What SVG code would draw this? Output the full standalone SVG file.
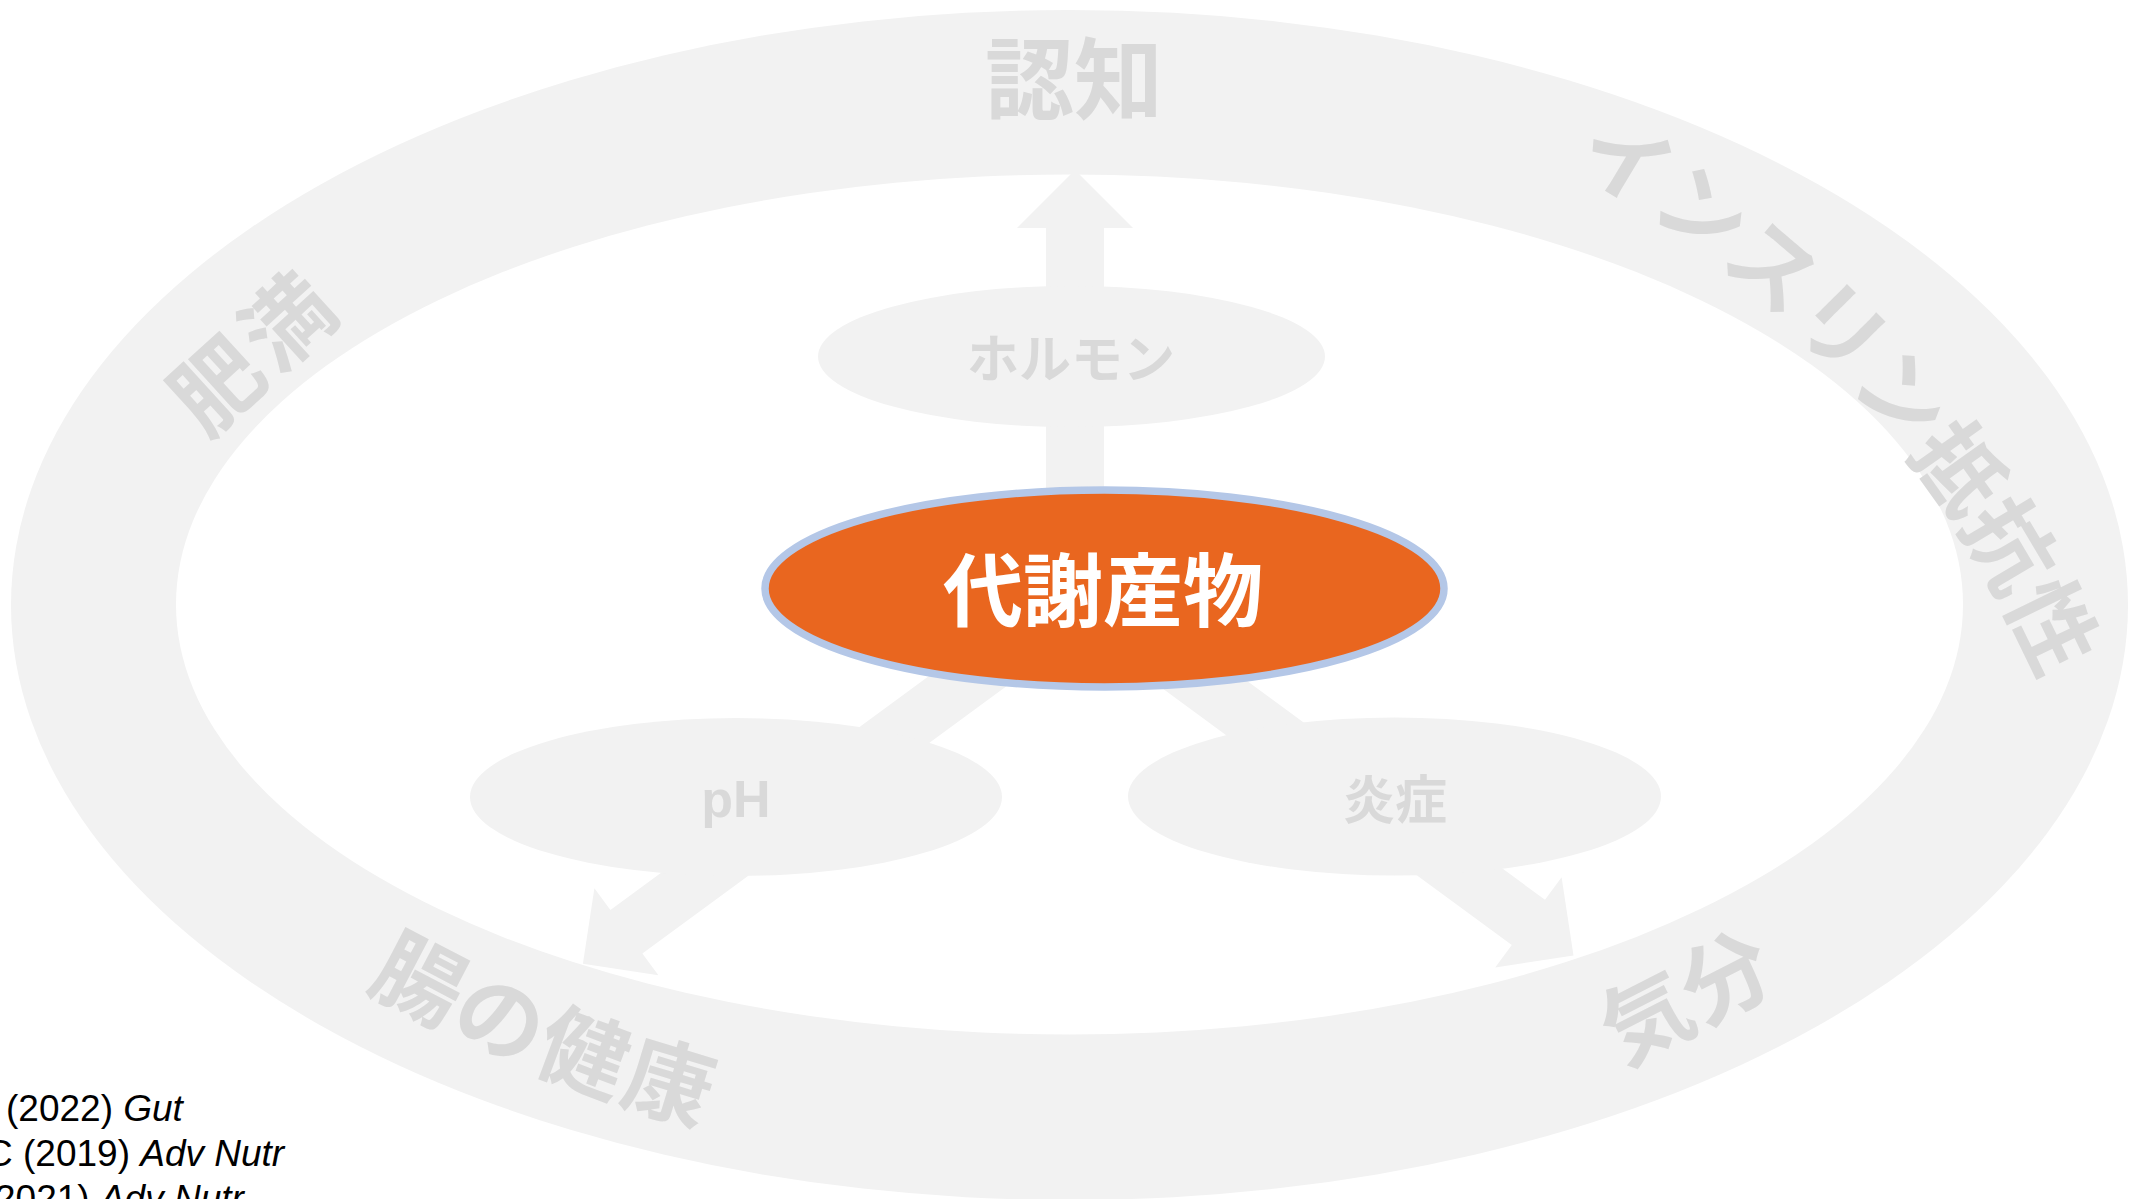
<svg xmlns="http://www.w3.org/2000/svg" width="2141" height="1199" viewBox="0 0 2141 1199">
<style>
.ring-bg { fill: #F2F2F2; }
.ring-hole { fill: #FFFFFF; }
.ring-label { font-family: "Noto Sans CJK JP", "Noto Sans CJK SC", sans-serif; font-weight: 700; font-size: 89px; fill: #D9D9D9; }
.node-bg { fill: #F2F2F2; }
.node-label { font-family: "Noto Sans CJK JP", "Noto Sans CJK SC", sans-serif; font-weight: 700; font-size: 52px; fill: #D9D9D9; text-anchor: middle; }
.latin-label { font-family: "Liberation Sans", Arial, sans-serif; font-weight: 700; font-size: 52px; fill: #D9D9D9; text-anchor: middle; }
.arrow { fill: #F2F2F2; }
.center-bg { fill: #E9661F; stroke: #B4C7E7; stroke-width: 7.5; }
.center-label { font-family: "Noto Sans CJK JP", "Noto Sans CJK SC", sans-serif; font-weight: 700; font-size: 80px; fill: #FFFFFF; text-anchor: middle; }
.cite { font-family: "Liberation Sans", Arial, sans-serif; font-size: 37px; fill: #000000; }
</style>
<defs>
<path id="arc-insulin" d="M1379.4,85.3 A1075.5,1075.5 0 0 1 2106,878.3"/>
<path id="arc-gut" d="M98,794.2 A1474,1474 0 0 0 1031.1,1175.9"/>
</defs>
<rect x="0" y="0" width="2141" height="1199" fill="#FFFFFF"/>
<g id="ring">
<ellipse class="ring-bg" cx="1069.5" cy="605" rx="1058.5" ry="595"/>
<ellipse class="ring-hole" cx="1069.5" cy="604.5" rx="893.5" ry="430"/>
</g>
<g id="label-cognition"><text class="ring-label" x="1074" y="112" text-anchor="middle">認知</text></g>
<g id="label-obesity"><text class="ring-label" transform="translate(253,354) rotate(-42.4)" x="3" y="32" text-anchor="middle" letter-spacing="6">肥満</text></g>
<g id="label-insulin"><text class="ring-label" text-anchor="middle"><textPath href="#arc-insulin" startOffset="50%">インスリン抵抗性</textPath></text></g>
<g id="label-gut"><text class="ring-label" text-anchor="middle" letter-spacing="3"><textPath href="#arc-gut" startOffset="50%">腸の健康</textPath></text></g>
<g id="label-mood"><text class="ring-label" transform="translate(1686.5,998) rotate(-27)" x="0" y="32" text-anchor="middle">気分</text></g>
<g id="connectors">
<polygon class="arrow" points="1046,520 1046,228 1017,228 1075,170 1133,228 1104,228 1104,520"/>
<polygon class="arrow" points="1021.2,675.4 642.4,953.6 658.4,975.3 582.9,963.8 594.4,888.3 610.4,910 989.2,631.8"/>
<polygon class="arrow" points="1133,666.8 1511.8,945 1495.2,967.5 1573.5,955.6 1561.6,877.3 1545,899.8 1166.2,621.6"/>
</g>
<g id="node-hormone">
<ellipse class="node-bg" cx="1071.5" cy="356.5" rx="253.5" ry="70.5"/>
<text class="node-label" x="1071" y="378">ホルモン</text>
</g>
<g id="node-ph">
<ellipse class="node-bg" cx="736" cy="797" rx="266" ry="79"/>
<text class="latin-label" x="736" y="817">pH</text>
</g>
<g id="node-inflammation">
<ellipse class="node-bg" cx="1394.5" cy="796.5" rx="266.5" ry="79"/>
<text class="node-label" x="1395" y="819" font-size="53">炎症</text>
</g>
<g id="node-metabolites">
<ellipse class="center-bg" cx="1104.5" cy="588.5" rx="339.5" ry="98.5"/>
<text class="center-label" x="1103" y="620">代謝産物</text>
</g>
<g id="citations">
<text class="cite" x="6" y="1121">(2022) <tspan font-style="italic">Gut</tspan></text>
<text class="cite" x="-14" y="1166">C (2019) <tspan font-style="italic">Adv Nutr</tspan></text>
<text class="cite" x="-5" y="1211">2021) <tspan font-style="italic">Adv Nutr</tspan></text>
</g>
</svg>
